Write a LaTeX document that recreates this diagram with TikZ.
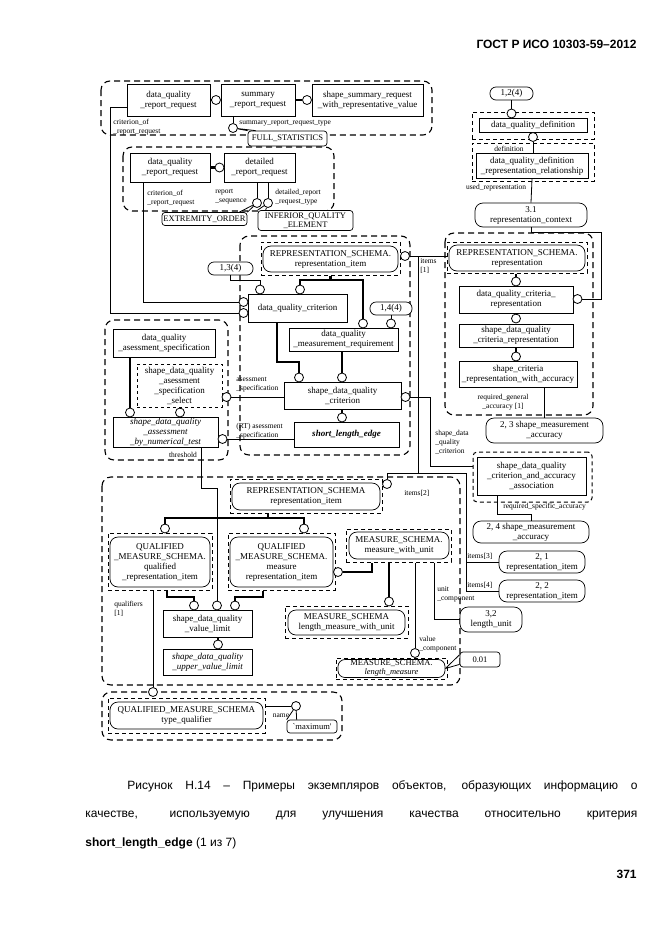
\documentclass[tikz,border=0pt]{standalone}
\usepackage{fontspec}
\setmainfont{Liberation Sans}
\newfontfamily\dqfont{Liberation Serif}
\begin{document}
\begin{tikzpicture}[x=1pt,y=-1pt,line width=0.8pt,
	ent/.style={draw,line width=1pt,fill=white,align=center,inner sep=0pt,font=\dqfont\fontsize{9}{10}\selectfont},
	itx/.style={font=\dqfont\fontsize{9}{10}\selectfont\itshape},
	pill/.style={draw,line width=0.7pt,rounded corners=8pt,fill=white,align=center,inner sep=0pt,font=\dqfont\fontsize{9}{10}\selectfont},
	val/.style={draw,line width=0.7pt,rounded corners=3pt,fill=white,align=center,inner sep=0pt,font=\dqfont\fontsize{8.5}{9}\selectfont},
	frm/.style={draw,line width=1pt,dash pattern=on 4pt off 3pt},
	grp/.style={draw,line width=1.1pt,dash pattern=on 6pt off 4pt,rounded corners=9pt},
	ring/.style={draw,circle,fill=white,minimum size=9pt,inner sep=0pt,line width=0.8pt},
	thk/.style={line width=2.8pt},
	lbl/.style={align=left,inner sep=0pt,font=\dqfont\fontsize{7.5}{9}\selectfont}]
	\fill[white] (0,0) rectangle (661,935);
	\useasboundingbox (0,0) rectangle (661,935);
	% page header
	\node[anchor=base east,inner sep=0pt,font=\bfseries\fontsize{12}{14}\selectfont] (hdr) at (637,48) {ГОСТ Р ИСО 10303-59–2012};
	% summary request group
	\draw[grp] (101,81) rectangle (432,135);
	\node[ent,minimum width=83,minimum height=32] (rqa) at (168.5,100) {data\_quality\\\_report\_request};
	\node[ent,minimum width=74,minimum height=32] (srr) at (258,100) {summary\\\_report\_request};
	\node[ent,minimum width=111,minimum height=32] (ssr) at (367.5,100) {shape\_summary\_request\\\_with\_representative\_value};
	\node[ring] (csr) at (216,100) {};
	\node[ring] (css) at (307,100) {};
	\draw[thk] (rqa) -- (csr);
	\draw[thk] (srr) -- (css);
	\node[ring] (cst) at (233,128) {};
	\draw (cst) -- (cst |- srr.south);
	\node[lbl,anchor=west] at (239,123) {summary\_report\_request\_type};
	\node[val,minimum width=79,minimum height=15] (fst) at (287.5,138.5) {FULL\_STATISTICS};
	\draw (cst) -- (fst.north west) (cst) -- ([xshift=8pt]fst.north west);
	\node[lbl,anchor=west] at (113,127) {criterion\_of\\\_report\_request};
	% detailed request group
	\draw[grp] (123,147) rectangle (334,211);
	\node[ent,minimum width=80,minimum height=29] (rqb) at (170,167.5) {data\_quality\\\_report\_request};
	\node[ent,minimum width=71,minimum height=29] (drr) at (259.5,167.5) {detailed\\\_report\_request};
	\node[ring] (cdr) at (219.5,167.5) {};
	\draw[thk] (rqb) -- (cdr);
	\node[ring] (crs) at (257,203) {};
	\node[ring] (crt) at (268,203) {};
	\draw (crs) -- (crs |- drr.south);
	\draw (crt) -- (crt |- drr.south);
	\node[lbl,anchor=west] at (215,197) {report\\\_sequence};
	\node[lbl,anchor=west] at (275,197) {detailed\_report\\\_request\_type};
	\node[lbl,anchor=west] at (147,198) {criterion\_of\\\_report\_request};
	\node[val,minimum width=85,minimum height=13] (eo) at (204.5,219) {EXTREMITY\_ORDER};
	\node[val,minimum width=95,minimum height=20] (iqe) at (305.5,220.5) {INFERIOR\_QUALITY\\\_ELEMENT};
	\draw (crs) -- (eo.north east) (crs) -- ([xshift=-8pt]eo.north east);
	\draw (crt) -- (iqe.north west) (crt) -- ([xshift=8pt]iqe.north west);
	% definition
	\node[pill,rounded corners=6pt,minimum width=43,minimum height=13] (p12) at (511.5,93.5) {1,2(4)};
	\node[frm,minimum width=122,minimum height=27] (fdq) at (533,125.5) {};
	\node[ent,minimum width=108,minimum height=14] (dqd) at (533,125) {data\_quality\_definition};
	\node[ring] (cd1) at (511.5,113.5) {};
	\node[ring] (cd2) at (533,137) {};
	\draw (p12) -- (cd1);
	\node[frm,minimum width=122,minimum height=38] (fdr) at (533,162) {};
	\node[lbl] at (509,149) {definition};
	\node[ent,minimum width=112,minimum height=25] (dqdr) at (532,166) {data\_quality\_definition\\\_representation\_relationship};
	\draw (cd2) -- (cd2 |- dqdr.north);
	\node[lbl] at (496,188) {used\_representation};
	\node[pill,minimum width=112,minimum height=24] (rc) at (531,215) {3.1\\representation\_context};
	\draw (dqdr.south) -- (rc.north);
	% representation group
	\draw[grp] (445,233) rectangle (593,415);
	\node[frm,minimum width=140,minimum height=31] (frp) at (517,257.5) {};
	\node[pill,minimum width=136,minimum height=26] (rep) at (517,258) {REPRESENTATION\_SCHEMA.\\representation};
	\node[ring] (cr1) at (516,281.5) {};
	\draw[thk] (frp.south -| cr1) -- (cr1);
	\node[ent,minimum width=114,minimum height=27] (dcr) at (516,299.5) {data\_quality\_criteria\_\\representation};
	\node[ring] (cr2) at (577.5,299) {};
	\draw (rc.south) |- (601,232) |- (cr2);
	\node[ring] (cr3) at (516,318.5) {};
	\draw (dcr) -- (cr3);
	\node[ent,minimum width=114,minimum height=23] (sdc) at (516,335.5) {shape\_data\_quality\\\_criteria\_representation};
	\node[ring] (cr4) at (516,356.5) {};
	\draw[thk] (sdc) -- (cr4);
	\node[ent,minimum width=118,minimum height=26] (scr) at (518,374.5) {shape\_criteria\\\_representation\_with\_accuracy};
	\node[lbl,align=center] at (503,402) {required\_general\\\_accuracy [1]};
	\node[pill,minimum width=117,minimum height=25] (p23) at (544.5,430.5) {2, 3 shape\_measurement\\\_accuracy};
	\draw (p23) -- (p23 |- scr.south);
	% criterion group
	\draw[grp] (240,236) rectangle (410,455);
	\node[frm,minimum width=139,minimum height=33] (fri) at (330.5,258.5) {};
	\node[pill,minimum width=135,minimum height=26] (ri1) at (330.5,259) {REPRESENTATION\_SCHEMA.\\representation\_item};
	\node[ring] (ci1) at (405,256) {};
	\draw (ci1) -- (ci1 -| frp.west);
	\node[lbl,anchor=west] at (420,266) {items\\{[1]}};
	\node[pill,rounded corners=6pt,minimum width=45,minimum height=13] (p13) at (230.5,268.5) {1,3(4)};
	\node[ent,minimum width=99,minimum height=28] (dqc) at (297.5,308) {data\_quality\_criterion};
	\node[ring] (cq1) at (243.5,302) {};
	\node[ring] (cq2) at (243.5,313) {};
	\node[ring] (cq3) at (260,289.5) {};
	\node[ring] (cq4) at (300,289.5) {};
	\draw (p13.south) |- (260,280) -- (cq3);
	\draw ([yshift=-7pt]rqa.west) -| (110,313) -- (cq2);
	\draw ([xshift=-27pt]rqb.south) |- (cq1);
	\node[pill,rounded corners=6pt,minimum width=42,minimum height=13] (p14) at (391,308.5) {1,4(4)};
	\node[ent,minimum width=109,minimum height=23] (dmr) at (343.5,339.5) {data\_quality\\\_measurement\_requirement};
	\node[ring] (cm1) at (363,323.5) {};
	\node[ring] (cm2) at (391,323.5) {};
	\draw (p14) -- (cm2);
	\draw[thk] (fri.south) -- (330.5,280);
	\draw[thk] (cq4) -- (300,280) -- (363,280) -- (cm1);
	\node[ent,minimum width=117,minimum height=27] (sdq) at (342.5,395.5) {shape\_data\_quality\\\_criterion};
	\node[ring] (cs1) at (299,377.5) {};
	\node[ring] (cs2) at (342,377.5) {};
	\draw[thk] ([xshift=-20.5pt]dqc.south) |- (299,362) -- (cs1);
	\draw[thk] (cs2) -- (cs2 |- dmr.south);
	\node[ring] (cs3) at (405.5,397) {};
	\node[ent,minimum width=105,minimum height=25,font=\dqfont\fontsize{9}{10}\selectfont\bfseries\itshape] (sle) at (346.5,434.5) {short\_length\_edge};
	\node[ring] (cs4) at (342,417.5) {};
	\draw[thk] (cs4) -- (cs4 |- sdq.south);
	\node[lbl,anchor=west] at (236,385) {asessment\\\_specification};
	\node[lbl,anchor=west] at (236,431) {(RT) asessment\\\_specification};
	% assessment group
	\draw[grp] (105,320) rectangle (228,460);
	\node[ent,minimum width=102,minimum height=28] (das) at (164,343) {data\_quality\\\_asessment\_specification};
	\node[ent,dashed,minimum width=85,minimum height=43] (sel) at (179.5,385.5) {shape\_data\_quality\\\_asessment\\\_specification\\\_select};
	\node[ring] (ca1) at (226.5,397) {};
	\node[ent,itx,minimum width=105,minimum height=30] (num) at (165.5,432) {shape\_data\_quality\\\_assessment\\\_by\_numerical\_test};
	\node[ring] (ca2) at (222.5,439) {};
	\node[ring] (ca3) at (130,412.5) {};
	\node[ring] (ca4) at (180,412.5) {};
	\draw[thk] (ca3) -- (ca3 |- das.south);
	\draw (ca4) -- (ca4 |- sel.south);
	\draw (sdq.west |- ca1) -- (ca1);
	\draw (sle.west |- ca2) -- (ca2);
	\node[lbl] at (183,455) {threshold};
	% value group
	\draw[grp] (102,477) rectangle (460,685);
	\node[frm,minimum width=152,minimum height=34] (fr2) at (306,496) {};
	\node[pill,minimum width=148,minimum height=27] (ri2) at (306,496.5) {REPRESENTATION\_SCHEMA\\representation\_item};
	\node[ring] (cb) at (387,484) {};
	\node[lbl,anchor=west] at (404,493) {items[2]};
	\node[frm,minimum width=104,minimum height=57] (fqr) at (160,561.5) {};
	\node[pill,minimum width=100,minimum height=50] (qr) at (160,562) {QUALIFIED\\\_MEASURE\_SCHEMA.\\qualified\\\_representation\_item};
	\node[frm,minimum width=107,minimum height=57] (fmr) at (281.5,561.5) {};
	\node[pill,minimum width=103,minimum height=50] (mr) at (281.5,562) {QUALIFIED\\\_MEASURE\_SCHEMA.\\measure\\representation\_item};
	\node[ring] (cq5) at (165,528.5) {};
	\node[ring] (cq6) at (304,528.5) {};
	\draw[thk] ([xshift=-38pt]fr2.south) -- (268,518);
	\draw[thk] (cq5) -- (165,518) -- (304,518) -- (cq6);
	\node[frm,minimum width=105,minimum height=33] (fmw) at (398.5,545.5) {};
	\node[pill,minimum width=100,minimum height=27] (mwu) at (399,545.5) {MEASURE\_SCHEMA.\\measure\_with\_unit};
	\node[ring] (cm3) at (338,572) {};
	\draw[thk] (cm3) -| ([xshift=-26.5pt]fmw.south);
	\node[frm,minimum width=123,minimum height=32] (flw) at (346.5,622) {};
	\node[pill,minimum width=117,minimum height=25] (lmw) at (346.5,622.5) {MEASURE\_SCHEMA\\length\_measure\_with\_unit};
	\node[ring] (cl1) at (389,601.5) {};
	\draw[thk] (cl1) -- (cl1 |- fmw.south);
	\node[ring] (cvc) at (415,653) {};
	\draw (cvc) -- (cvc |- fmw.south);
	\node[lbl,anchor=west] at (419,644) {value\\\_component};
	\node[pill,minimum width=62,minimum height=25] (lu) at (491,619.5) {3,2\\length\_unit};
	\draw ([xshift=35.5pt]fmw.south) |- (lu);
	\node[lbl,anchor=west] at (437,594) {unit\\\_component};
	\node[frm,minimum width=111,minimum height=21] (flm) at (391.5,668.5) {};
	\node[pill,rounded corners=7pt,minimum width=107,minimum height=18,font=\dqfont\fontsize{8.5}{9}\selectfont] (lm) at (391.5,668.5) {MEASURE\_SCHEMA.\\{\itshape length\_measure}};
	\node[val,minimum width=40,minimum height=15] (v01) at (480,659.5) {0.01};
	\draw (lm.east) -- ([yshift=-3pt]v01.north west) (lm.east) -- ([yshift=3pt]v01.south west);
	\node[ent,minimum width=89,minimum height=27] (vl) at (207.5,623.5) {shape\_data\_quality\\\_value\_limit};
	\node[ring] (cv1) at (194,605.5) {};
	\node[ring] (cv2) at (217,605.5) {};
	\node[ring] (cv3) at (235,605.5) {};
	\draw[thk] ([xshift=7pt]fqr.south) |- (194,597) -- (cv1);
	\draw[thk] ([xshift=-18.5pt]fmr.south) |- (235,597) -- (cv3);
	\draw ([xshift=35.5pt]num.south) |- (217,488) -- (cv2);
	\node[lbl,anchor=west] at (114,609) {qualifiers\\{[1]}};
	\node[ring] (cu) at (218,644.5) {};
	\node[ent,itx,minimum width=89,minimum height=26] (uvl) at (207.5,662) {shape\_data\_quality\\\_upper\_value\_limit};
	\draw[thk] (cu) -- (cu |- vl.south);
	% type qualifier
	\draw[grp] (102,692) rectangle (342,740);
	\node[frm,minimum width=157,minimum height=35] (ftq) at (186.5,715.5) {};
	\node[pill,minimum width=153,minimum height=27] (tq) at (186.5,715.5) {QUALIFIED\_MEASURE\_SCHEMA\\type\_qualifier};
	\node[ring] (ct) at (153,692) {};
	\draw (ct) -- (ct |- fqr.south);
	\node[ring] (cn) at (296,706) {};
	\draw (cn) -- (cn -| ftq.east);
	\node[lbl] at (281,716) {name};
	\node[val,minimum width=50,minimum height=13] (vmx) at (312,726.5) {`maximum'};
	\draw (cn) -- (vmx.north west) (cn) -- ([xshift=10pt]vmx.north west);
	% accuracy association
	\node[frm,rounded corners=4pt,minimum width=119,minimum height=50] (fsa) at (532.5,477) {};
	\node[ent,minimum width=109,minimum height=38] (sqa) at (531.5,476) {shape\_data\_quality\\\_criterion\_and\_accuracy\\\_association};
	\draw (cs3) -| (430,466) -- (430,466 -| fsa.west);
	\node[lbl,anchor=west] at (435,442) {shape\_data\\\_quality\\\_criterion};
	\node[pill,minimum width=116,minimum height=22] (p24) at (531,532) {2, 4 shape\_measurement\\\_accuracy};
	\draw ([xshift=-34.5pt]sqa.south) |- (531,514) -- (p24);
	\node[lbl,anchor=west] at (503,507) {required\_specific\_accuracy};
	\node[pill,minimum width=86,minimum height=22] (p21) at (542,562) {2, 1\\representation\_item};
	\node[pill,minimum width=86,minimum height=22] (p22) at (542,591) {2, 2\\representation\_item};
	\node[lbl,anchor=south west] at (467,560) {items[3]};
	\node[lbl,anchor=south west] at (467,589) {items[4]};
	% items of the representation
	\draw (418,256) -- (418,473) -| (cb);
	\draw (418,473) -| (466,591) -- (p22);
	\draw (466,562) -- (p21);
	% caption
	\node[anchor=base west,inner sep=0pt,font=\fontsize{12}{14}\selectfont] (cap1) at (127,789) {\makebox[510pt][s]{Рисунок Н.14 – Примеры экземпляров объектов, образующих информацию о}};
	\node[anchor=base west,inner sep=0pt,font=\fontsize{12}{14}\selectfont] (cap2) at (85,817) {\makebox[552pt][s]{качестве, используемую для улучшения качества относительно критерия}};
	\node[anchor=base west,inner sep=0pt,font=\fontsize{12}{14}\selectfont] (cap3) at (85,846) {\textbf{short\_length\_edge} (1 из 7)};
	\node[anchor=base east,inner sep=0pt,font=\bfseries\fontsize{12}{14}\selectfont] (pg) at (637,878) {371};
\end{tikzpicture}
\end{document}
